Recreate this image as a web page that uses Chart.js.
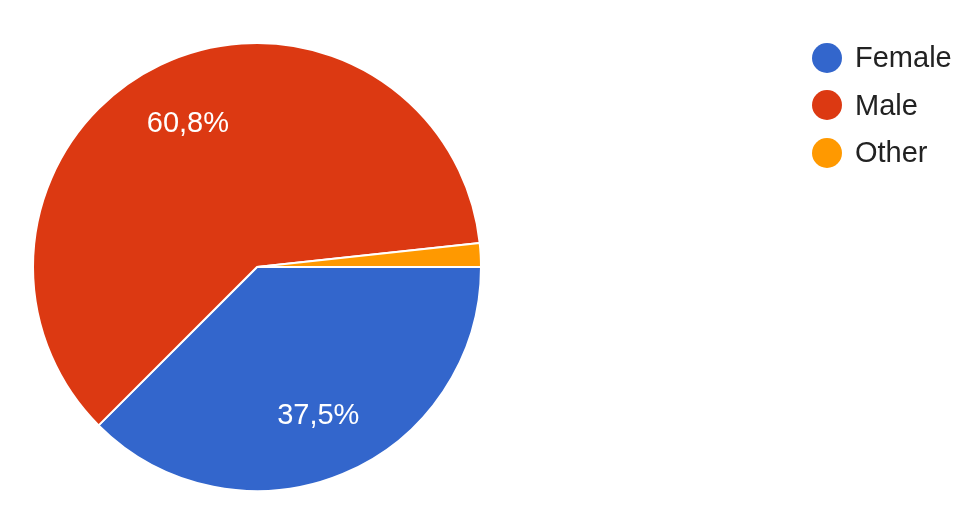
<!DOCTYPE html>
<html>
<head>
<meta charset="utf-8">
<script src="https://cdn.jsdelivr.net/npm/chart.js@4/dist/chart.umd.min.js"></script>
<style>
  html, body { margin: 0; padding: 0; background: #fff; }
  #wrap { position: relative; width: 967px; height: 507px; }
  #legend { position: absolute; left: 812px; top: 34px; font-family: Arial, "Liberation Sans", sans-serif; font-size: 29px; color: #222; }
  #legend div { height: 47.5px; display: flex; align-items: center; }
  #legend span.dot { width: 30px; height: 30px; border-radius: 50%; margin-right: 13px; display: inline-block; }
</style>
</head>
<body>
<div id="wrap">
  <canvas id="pie" width="967" height="507"></canvas>
  <div id="legend"></div>
</div>
<script>
const labels = ['Female', 'Male', 'Other'];
const values = [37.5, 60.8, 1.7];
const shownLabels = ['37,5%', '60,8%', ''];
const colors = ['#3366cc', '#dc3912', '#ff9900'];

// percentage text inside slices
const sliceLabels = {
  id: 'sliceLabels',
  afterDatasetsDraw(chart) {
    const ctx = chart.ctx;
    const meta = chart.getDatasetMeta(0);
    ctx.save();
    ctx.fillStyle = '#fff';
    ctx.font = '29px Arial, "Liberation Sans", sans-serif';
    ctx.textAlign = 'center';
    ctx.textBaseline = 'middle';
    meta.data.forEach((arc, i) => {
      if (!shownLabels[i]) return;
      const p = arc.getProps(['x', 'y', 'startAngle', 'endAngle', 'outerRadius'], true);
      const mid = (p.startAngle + p.endAngle) / 2;
      const r = p.outerRadius * 0.715;
      ctx.fillText(shownLabels[i], p.x + Math.cos(mid) * r, p.y + Math.sin(mid) * r + 1);
    });
    ctx.restore();
  }
};

new Chart(document.getElementById('pie'), {
  type: 'pie',
  data: {
    labels: labels,
    datasets: [{
      data: values,
      backgroundColor: colors,
      borderColor: '#fff',
      borderWidth: 2
    }]
  },
  options: {
    responsive: false,
    animation: false,
    rotation: 90,
    layout: { padding: { left: 32, top: 42, right: 485, bottom: 15 } },
    plugins: {
      legend: { display: false },
      tooltip: { enabled: false }
    }
  },
  plugins: [sliceLabels]
});

const legend = document.getElementById('legend');
labels.forEach((l, i) => {
  const row = document.createElement('div');
  row.innerHTML = '<span class="dot" style="background:' + colors[i] + '"></span>' + l;
  legend.appendChild(row);
});
</script>
</body>
</html>
